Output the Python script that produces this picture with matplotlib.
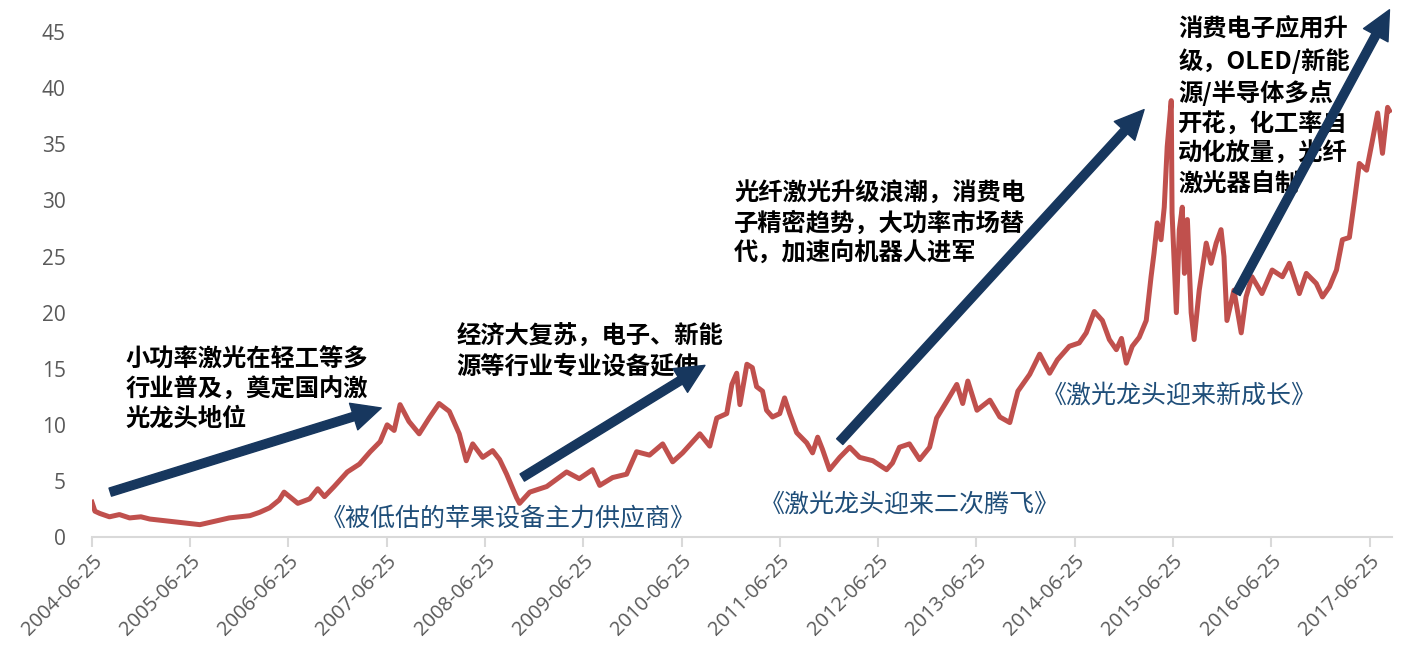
import matplotlib
matplotlib.use("Agg")
import matplotlib.pyplot as plt
import matplotlib.dates as mdates
from matplotlib.patches import FancyArrowPatch, ArrowStyle
import pandas as pd

plt.rcParams['font.family'] = ['Noto Sans CJK SC', 'DejaVu Sans']

# price series
dates = [
    "2004-06-25", "2004-07-06", "2004-07-24", "2004-08-29", "2004-10-05", "2004-11-12",
    "2004-12-24", "2005-01-26", "2005-03-04", "2005-04-09", "2005-05-19", "2005-06-25",
    "2005-07-31", "2005-09-06", "2005-10-12", "2005-11-17", "2005-12-27", "2006-02-02",
    "2006-03-10", "2006-04-16", "2006-05-22", "2006-06-09", "2006-07-30", "2006-09-12",
    "2006-10-12", "2006-11-06", "2006-12-12", "2007-01-30", "2007-03-16", "2007-04-25",
    "2007-06-01", "2007-06-27", "2007-07-23", "2007-08-14", "2007-09-16", "2007-10-24",
    "2007-11-30", "2008-01-06", "2008-02-13", "2008-03-21", "2008-04-16", "2008-05-10",
    "2008-06-16", "2008-07-23", "2008-08-18", "2008-09-13", "2008-10-20", "2008-10-31",
    "2008-12-08", "2009-02-09", "2009-04-24", "2009-06-10", "2009-07-29", "2009-08-25",
    "2009-10-12", "2009-12-03", "2010-01-09", "2010-02-26", "2010-04-16", "2010-05-23",
    "2010-06-29", "2010-09-01", "2010-10-08", "2010-11-03", "2010-12-10", "2010-12-29",
    "2011-01-16", "2011-01-28", "2011-02-23", "2011-03-15", "2011-03-31", "2011-04-22",
    "2011-05-07", "2011-05-29", "2011-06-25", "2011-07-13", "2011-08-01", "2011-08-27",
    "2011-10-03", "2011-10-25", "2011-11-13", "2011-12-01", "2011-12-27", "2012-02-03",
    "2012-03-11", "2012-04-17", "2012-06-05", "2012-07-26", "2012-08-17", "2012-09-12",
    "2012-10-19", "2012-11-26", "2013-01-02", "2013-01-28", "2013-03-07", "2013-04-13",
    "2013-05-05", "2013-05-24", "2013-06-27", "2013-08-14", "2013-09-20", "2013-10-27",
    "2013-11-26", "2014-01-09", "2014-02-15", "2014-03-24", "2014-04-22", "2014-06-05",
    "2014-07-12", "2014-08-07", "2014-09-06", "2014-10-06", "2014-11-01", "2014-11-27",
    "2014-12-16", "2015-01-03", "2015-01-25", "2015-02-20", "2015-03-18", "2015-04-05",
    "2015-04-16", "2015-04-28", "2015-05-12", "2015-05-24", "2015-06-04", "2015-06-19",
    "2015-06-22", "2015-07-08", "2015-07-19", "2015-07-30", "2015-08-07", "2015-08-18",
    "2015-09-01", "2015-09-12", "2015-10-01", "2015-10-27", "2015-11-14", "2015-12-03",
    "2015-12-21", "2016-01-01", "2016-01-12", "2016-02-07", "2016-03-05", "2016-03-23",
    "2016-04-14", "2016-05-21", "2016-06-28", "2016-08-05", "2016-08-31", "2016-10-07",
    "2016-11-02", "2016-12-09", "2017-01-01", "2017-01-27", "2017-02-22", "2017-03-16",
    "2017-04-11", "2017-04-30", "2017-05-18", "2017-06-14", "2017-07-06", "2017-07-25",
    "2017-08-12", "2017-08-31", "2017-09-07",
]
prices = [
    3.1, 2.3, 2.1, 1.8, 2.0, 1.7,
    1.8, 1.6, 1.5, 1.4, 1.3, 1.2,
    1.1, 1.3, 1.5, 1.7, 1.8, 1.9,
    2.2, 2.6, 3.3, 4.0, 3.0, 3.4,
    4.3, 3.6, 4.5, 5.8, 6.5, 7.6,
    8.5, 10.0, 9.5, 11.8, 10.3, 9.2,
    10.6, 11.9, 11.2, 9.2, 6.8, 8.3,
    7.1, 7.7, 6.9, 5.6, 3.5, 3.0,
    4.0, 4.5, 5.8, 5.2, 6.0, 4.6,
    5.3, 5.6, 7.6, 7.3, 8.3, 6.7,
    7.5, 9.2, 8.1, 10.6, 11.0, 13.6,
    14.6, 11.8, 15.4, 15.1, 13.4, 13.0,
    11.3, 10.7, 11.0, 12.4, 11.0, 9.3,
    8.4, 7.5, 8.9, 7.8, 6.0, 7.1,
    8.0, 7.1, 6.8, 6.0, 6.6, 8.0,
    8.3, 6.9, 8.0, 10.6, 12.1, 13.6,
    11.9, 13.9, 11.3, 12.2, 10.7, 10.2,
    13.0, 14.5, 16.3, 14.6, 15.8, 17.0,
    17.3, 18.2, 20.1, 19.3, 17.6, 16.7,
    17.7, 15.5, 17.0, 17.8, 19.3, 23.2,
    25.3, 28.0, 26.5, 29.4, 34.8, 38.9,
    28.9, 20.0, 27.4, 29.4, 23.5, 28.3,
    20.0, 17.6, 22.0, 26.2, 24.4, 26.2,
    27.4, 25.0, 19.3, 22.0, 18.2, 21.4,
    23.2, 21.7, 23.8, 23.2, 24.4, 21.7,
    23.5, 22.6, 21.4, 22.3, 23.8, 26.5,
    26.7, 30.0, 33.3, 32.7, 35.4, 37.8,
    34.2, 38.3, 38.0,
]

tick_dates = ["%d-06-25" % y for y in range(2004, 2018)]

# trend arrows: (start date, start value, end date, end value)
arrows = [
    ("2004-09-01", 4.0, "2007-06-05", 11.5),
    ("2008-11-10", 5.3, "2010-09-20", 15.3),
    ("2012-02-03", 8.5, "2015-03-10", 38.1),
    ("2016-02-16", 21.7, "2017-09-07", 47.0),
]

notes = [
    ("2004-10-27", 16.9, "小功率激光在轻工等多\n行业普及，奠定国内激\n光龙头地位"),
    ("2008-03-10", 18.9, "经济大复苏，电子、新能\n源等行业专业设备延伸"),
    ("2011-01-07", 31.7, "光纤激光升级浪潮，消费电\n子精密趋势，大功率市场替\n代，加速向机器人进军"),
    ("2015-07-15", 46.3, "消费电子应用升\n级，OLED/新能\n源/半导体多点\n开花，化工率自\n动化放量，光纤\n激光器自制"),
]

titles = [
    ("2008-09-20", 1.6, "《被低估的苹果设备主力供应商》"),
    ("2012-10-19", 2.9, "《激光龙头迎来二次腾飞》"),
    ("2015-07-19", 12.6, "《激光龙头迎来新成长》"),
]

x = pd.to_datetime(dates)

fig = plt.figure(figsize=(14.02, 6.48), dpi=100)
ax = fig.add_axes([0.0656, 0.1713, 0.927, 0.779])

ax.plot(x, prices, color="#C0504D", linewidth=3.6, solid_joinstyle="round")

ax.set_ylim(0, 45)
ax.set_yticks(range(0, 50, 5))
ax.set_xlim(pd.Timestamp("2004-06-25"), pd.Timestamp("2017-09-15"))
ax.set_xticks(pd.to_datetime(tick_dates))
ax.xaxis.set_major_formatter(mdates.DateFormatter("%Y-%m-%d"))

for s in ["top", "right", "left"]:
    ax.spines[s].set_visible(False)
ax.spines["bottom"].set_color("#D9D9D9")
ax.spines["bottom"].set_linewidth(1.5)

ax.tick_params(axis="y", length=0, pad=19, labelsize=15, labelcolor="#595959")
ax.tick_params(axis="x", length=7, width=1.5, color="#D9D9D9", pad=3,
               labelsize=14.5, labelcolor="#595959")
for lab in ax.get_yticklabels() + ax.get_xticklabels():
    lab.set_family(["Open Sans", "DejaVu Sans"])
for lab in ax.get_xticklabels():
    lab.set_rotation(45)
    lab.set_ha("right")
    lab.set_rotation_mode("anchor")

navy = "#17375E"
for x0, y0, x1, y1 in arrows:
    p = FancyArrowPatch(
        (mdates.date2num(pd.Timestamp(x0)), y0),
        (mdates.date2num(pd.Timestamp(x1)), y1),
        arrowstyle=ArrowStyle.Simple(head_length=1.3, head_width=1.25, tail_width=0.38),
        mutation_scale=16, color=navy, shrinkA=0, shrinkB=0, clip_on=False, zorder=5,
    )
    ax.add_patch(p)

for d, v, s in notes:
    ax.text(pd.Timestamp(d), v, s, fontsize=17.5, fontweight="bold", color="black",
            ha="left", va="top", linespacing=1.3, zorder=4)

for d, v, s in titles:
    ax.text(pd.Timestamp(d), v, s, fontsize=18, color="#1F4E79",
            ha="center", va="center", zorder=4)

fig.savefig("out.png", dpi=100)
